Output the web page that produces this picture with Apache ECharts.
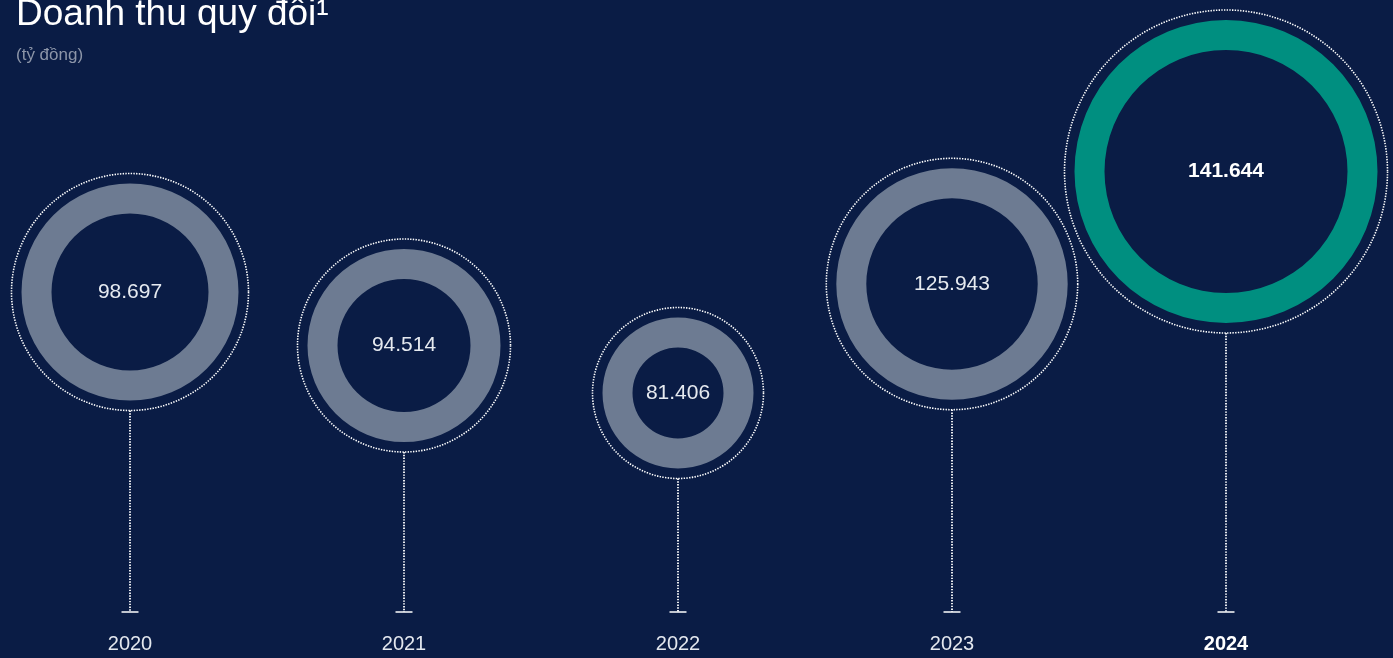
<!DOCTYPE html>
<html>
<head>
<meta charset="utf-8">
<style>
  html, body { margin: 0; padding: 0; background: #0a1c45; }
  #chart { width: 1393px; height: 658px; }
</style>
<script src="https://cdn.jsdelivr.net/npm/echarts@6/dist/echarts.min.js"></script>
</head>
<body>
<div id="chart"></div>
<script>
// ---- data ----
const years = ['2020', '2021', '2022', '2023', '2024'];
const revenue = [98697, 94514, 81406, 125943, 141644]; // tỷ đồng
const highlightYear = '2024';

// ---- layout (visual design, not data) ----
const ringOuterRadius = [108.5, 96.5, 75.5, 115.7, 151.5];
const ringLift = [320, 266.5, 219, 328, 440.5]; // height of ring centre above the baseline
const ringThickness = 30;
const dotGap = 10;

const fmt = v => String(v).replace(/\B(?=(\d{3})+(?!\d))/g, '.');
const FONT = '"Liberation Sans", Arial, Helvetica, sans-serif';

const chart = echarts.init(document.getElementById('chart'), null, { renderer: 'canvas' });

chart.setOption({
  backgroundColor: '#0a1c45',
  animation: false,
  title: [
    {
      text: 'Doanh thu quy đổi¹',
      left: 11, top: -9,
      textStyle: { color: '#ffffff', fontSize: 37, fontWeight: 'normal', fontFamily: FONT, lineHeight: 37 }
    },
    {
      text: '(tỷ đồng)',
      left: 11, top: 41,
      textStyle: { color: '#8c95a8', fontSize: 17, fontWeight: 'normal', fontFamily: FONT, lineHeight: 18 }
    }
  ],
  grid: { left: 130, right: 167, top: 0, bottom: 46 },
  xAxis: {
    type: 'category',
    data: years,
    boundaryGap: false,
    axisLine: { show: false },
    axisTick: { show: false },
    splitLine: { show: false },
    axisLabel: {
      margin: 22,
      formatter: v => v === highlightYear ? '{b|' + v + '}' : '{n|' + v + '}',
      rich: {
        n: { color: '#e3e7ee', fontSize: 20, fontFamily: FONT },
        b: { color: '#ffffff', fontSize: 20, fontWeight: 'bold', fontFamily: FONT }
      }
    }
  },
  yAxis: { type: 'value', min: 0, max: 612, show: false },
  series: [{
    type: 'custom',
    coordinateSystem: 'cartesian2d',
    data: revenue.map((v, i) => [i, v]),
    renderItem: (params, api) => {
      const i = params.dataIndex;
      const base = api.coord([i, 0]);
      const centre = api.coord([i, ringLift[i]]);
      const x = base[0], by = base[1], cy = centre[1];
      const R = ringOuterRadius[i];
      const hl = years[i] === highlightYear;
      return {
        type: 'group',
        children: [
          {
            type: 'line',
            shape: { x1: x, y1: cy + R + dotGap, x2: x, y2: by },
            style: { stroke: '#ffffff', lineWidth: 1.8, lineDash: [1.4, 1.4] }
          },
          {
            type: 'line',
            shape: { x1: x - 8.5, y1: by, x2: x + 8.5, y2: by },
            style: { stroke: '#ffffff', lineWidth: 1.5 }
          },
          {
            type: 'circle',
            shape: { cx: x, cy: cy, r: R + dotGap },
            style: { fill: 'none', stroke: '#ffffff', lineWidth: 1.6, lineDash: [1.4, 1.3] }
          },
          {
            type: 'ring',
            shape: { cx: x, cy: cy, r: R, r0: R - ringThickness },
            style: { fill: hl ? '#008f80' : '#6d7b92' }
          },
          {
            type: 'text',
            x: x, y: cy,
            style: {
              text: fmt(api.value(1)),
              align: 'center', verticalAlign: 'middle',
              fill: hl ? '#ffffff' : '#e6eaf0',
              font: (hl ? 'bold ' : '') + '21px ' + FONT
            }
          }
        ]
      };
    }
  }]
});
</script>
</body>
</html>
